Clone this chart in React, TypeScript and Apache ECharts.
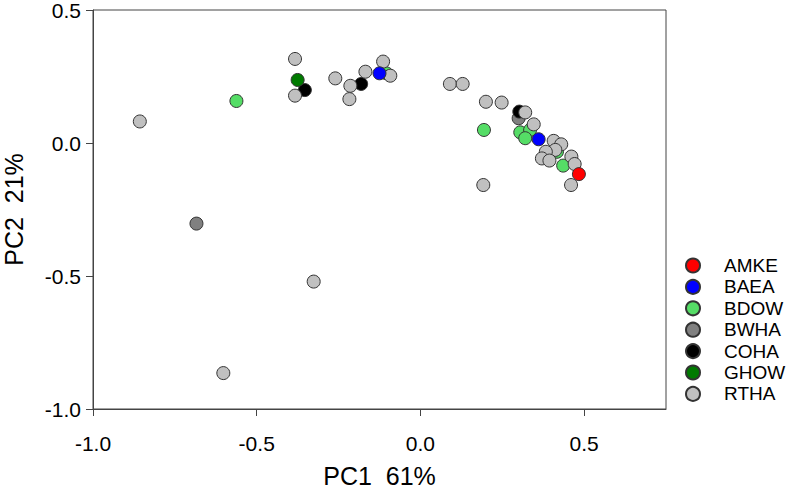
import React, { useEffect, useRef } from "react";
import * as echarts from "echarts";

const SPECIES = ["AMKE", "BAEA", "BDOW", "BWHA", "COHA", "GHOW", "RTHA"];
const COLORS: Record<string, string> = {
  AMKE: "#ff0000",
  BAEA: "#0000ff",
  BDOW: "#55dd66",
  BWHA: "#808080",
  COHA: "#000000",
  GHOW: "#007a00",
  RTHA: "#c0c0c0",
};

const AMKE = [[0.484, -0.117]];
const BAEA = [[-0.125, 0.262], [0.361, 0.014]];
const BDOW = [
  [-0.562, 0.158], [-0.104, 0.262], [0.194, 0.049], [0.305, 0.040],
  [0.335, 0.049], [0.320, 0.018], [0.417, -0.033], [0.436, -0.085],
];
const BWHA = [[-0.684, -0.303], [0.300, 0.093]];
const COHA = [[-0.353, 0.199], [-0.181, 0.222], [0.302, 0.118]];
const GHOW = [[-0.375, 0.237]];
const RTHA = [
  [-0.857, 0.081], [-0.602, -0.865], [-0.326, -0.521],
  [-0.383, 0.316], [-0.383, 0.178], [-0.260, 0.243], [-0.214, 0.215],
  [-0.217, 0.165], [-0.168, 0.268], [-0.114, 0.306], [-0.092, 0.253],
  [0.090, 0.222], [0.129, 0.222], [0.200, 0.155], [0.248, 0.152],
  [0.320, 0.115], [0.346, 0.070], [0.192, -0.158],
  [0.407, 0.008], [0.430, -0.005], [0.412, -0.026], [0.383, -0.033],
  [0.371, -0.058], [0.394, -0.066], [0.461, -0.051], [0.471, -0.079],
  [0.460, -0.158],
];

const DATA: Record<string, number[][]> = { AMKE, BAEA, BDOW, BWHA, COHA, GHOW, RTHA };
// drawing order (later on top)
const DRAW_ORDER = ["BWHA", "COHA", "BDOW", "RTHA", "GHOW", "BAEA", "AMKE"];

const X_TICKS = [-1, -0.5, 0, 0.5];
const Y_TICKS = [-1, -0.5, 0, 0.5];

const FONT = "Arial, 'Liberation Sans', Helvetica, sans-serif";
const AXIS_COLOR = "#444";

export default function App() {
  const ref = useRef<HTMLDivElement>(null);
  useEffect(() => {
    if (!ref.current) return;
    const chart = echarts.init(ref.current, undefined, { renderer: "svg" });
    chart.setOption({
      animation: false,
      backgroundColor: "#ffffff",
      textStyle: { fontFamily: FONT },
      grid: {
        left: 93,
        right: 121,
        top: 10,
        bottom: 81,
        containLabel: false,
        outerBoundsMode: "none",
        show: true,
        borderColor: AXIS_COLOR,
        borderWidth: 1,
      },
      legend: {
        orient: "vertical",
        left: 685,
        top: 256,
        padding: 0,
        itemWidth: 14,
        itemHeight: 14,
        itemGap: 2.4,
        icon: "circle",
        data: SPECIES,
        textStyle: {
          fontFamily: FONT,
          fontSize: 19,
          color: "#000",
          padding: [0, 0, 0, 19],
        },
      },
      xAxis: {
        type: "value",
        min: -1,
        max: 0.75,
        interval: 0.5,
        name: "PC1  61%",
        nameLocation: "middle",
        nameGap: 54,
        nameTextStyle: { fontFamily: FONT, fontSize: 25, color: "#000" },
        axisLine: { show: true, onZero: false, lineStyle: { color: AXIS_COLOR, width: 1 } },
        axisTick: {
          show: true,
          inside: false,
          length: 7,
          customValues: X_TICKS,
          lineStyle: { color: AXIS_COLOR },
        },
        axisLabel: {
          customValues: X_TICKS,
          margin: 24,
          fontFamily: FONT,
          fontSize: 21,
          color: "#000",
          formatter: (v: number) => v.toFixed(1),
        },
        splitLine: { show: false },
      },
      yAxis: {
        type: "value",
        min: -1,
        max: 0.5,
        interval: 0.5,
        name: "PC2  21%",
        nameLocation: "middle",
        nameGap: 67,
        nameRotate: 90,
        nameTextStyle: { fontFamily: FONT, fontSize: 25, color: "#000" },
        axisLine: { show: true, onZero: false, lineStyle: { color: AXIS_COLOR, width: 1 } },
        axisTick: {
          show: true,
          inside: false,
          length: 7,
          customValues: Y_TICKS,
          lineStyle: { color: AXIS_COLOR },
        },
        axisLabel: {
          customValues: Y_TICKS,
          margin: 12,
          fontFamily: FONT,
          fontSize: 21,
          color: "#000",
          formatter: (v: number) => v.toFixed(1),
        },
        splitLine: { show: false },
      },
      series: DRAW_ORDER.map((name) => ({
        name,
        type: "scatter",
        data: DATA[name],
        symbol: "circle",
        symbolSize: 13,
        itemStyle: {
          color: COLORS[name],
          borderColor: "#333",
          borderWidth: 1,
          opacity: 1,
        },
        emphasis: { disabled: true },
      })),
    });
    return () => chart.dispose();
  }, []);
  return (
    <div
      ref={ref}
      style={{ position: "fixed", left: 0, top: 0, width: 787, height: 490 }}
    />
  );
}
